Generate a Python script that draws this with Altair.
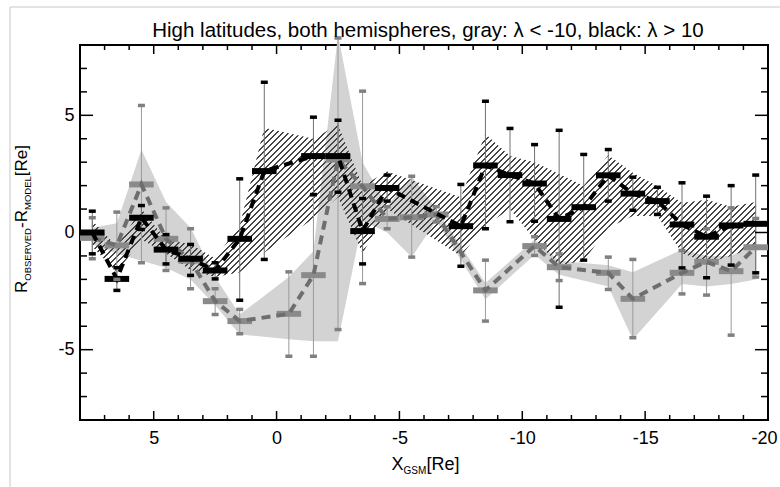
import altair as alt
import pandas as pd

TITLE = "High latitudes, both hemispheres, gray: \u03bb < -10, black: \u03bb > 10"

# ---- black series (lambda > 10) ----
BLACK_X = [7.5, 6.5, 5.5, 4.5, 3.5, 2.5, 1.5, 0.5, -1.5, -2.5, -3.5, -4.5, -7.5,
           -8.5, -9.5, -10.5, -11.5, -12.5, -13.5, -14.5, -15.5, -16.5, -17.5, -18.5, -19.5]
BLACK_Y = [0.0, -1.98, 0.63, -0.73, -1.12, -1.62, -0.27, 2.62, 3.26, 3.26, 0.06, 1.9, 0.27,
           2.86, 2.45, 2.09, 0.58, 1.08, 2.44, 1.66, 1.34, 0.34, -0.18, 0.30, 0.37]
BLACK_LO = [-0.91, -2.47, 0.13, -1.34, -1.83, -1.98, -2.89, -1.15, 1.62, 1.72, -1.34, 1.34, -1.44,
            0.16, 0.46, 0.48, -3.19, -1.18, 1.34, 0.95, 0.77, -1.51, -1.93, -1.39, -1.72]
BLACK_HI = [0.91, -1.5, 1.15, -0.09, -0.51, -1.29, 2.29, 6.41, 4.92, 4.79, 1.45, 2.45, 2.05,
            5.6, 4.44, 3.75, 4.36, 3.33, 3.54, 2.36, 1.93, 2.12, 1.55, 2.0, 2.45]
BLACK_BAND_LO = [-0.6, -1.7, -0.3, -0.9, -1.6, -1.9, -1.7, -0.85, 0.6, 1.5, -0.9, 1.0, -1.0,
                 0.3, 1.0, -0.3, -1.4, -1.2, 0.2, 0.7, 0.7, -0.87, -1.3, -1.0, -0.6]
BLACK_BAND_HI = [0.5, -0.6, 1.0, -0.3, -0.5, -1.1, 0.3, 4.47, 4.0, 4.6, 2.0, 2.6, 1.5,
                 4.2, 3.26, 3.0, 2.5, 2.0, 3.3, 2.55, 1.97, 1.27, 1.4, 1.1, 1.3]

# ---- gray series (lambda < -10) ----
GRAY_X = [7.5, 6.5, 5.5, 4.5, 3.5, 2.5, 1.5, -0.5, -1.5, -2.5, -3.5, -4.5, -5.5, -6.5,
          -8.5, -10.5, -11.5, -13.5, -14.5, -16.5, -17.5, -18.5, -19.5]
GRAY_Y = [-0.23, -0.55, 2.05, -0.27, -1.2, -2.93, -3.78, -3.47, -1.82, 3.11, 1.97, 0.58, 0.65, 0.77,
          -2.47, -0.58, -1.48, -1.72, -2.83, -1.72, -1.25, -1.65, -0.63]
GRAY_LO = [-1.12, -2.0, -1.29, -1.62, -2.4, -3.5, -4.32, -5.28, -5.28, -4.14, -2.18, 0.16, -1.05, 0.45,
           -3.78, -0.98, -2.05, -2.43, -4.49, -2.62, -2.67, -4.38, -1.9]
GRAY_HI = [0.63, 0.87, 5.42, 1.05, 0.16, -2.4, -3.28, -1.68, 1.6, 8.3, 6.03, 1.1, 2.4, 1.1,
           -1.18, -0.18, -0.91, -1.05, -1.15, -0.77, 0.16, 1.05, 0.6]
GRAY_BAND_LO = [-0.5, -0.9, -1.2, -1.5, -2.0, -3.1, -4.35, -4.55, -4.64, -4.64, 0.5, 0.0, -1.05, 0.5,
                -2.85, -0.95, -1.8, -2.3, -4.56, -2.2, -2.3, -2.2, -2.0]
GRAY_BAND_HI = [0.2, 0.4, 3.54, 1.3, 0.2, -1.9, -3.5, -1.9, -0.8, 8.45, 3.0, 1.12, 2.4, 1.0,
                -2.15, -0.3, -1.2, -1.4, -1.7, -0.73, -1.0, -1.0, -0.45]

# ---- axes ----
X_DOMAIN = [8, -20]
Y_DOMAIN = [-8, 8]
X_LABELS = [5, 0, -5, -10, -15, -20]
Y_LABELS = [-5, 0, 5]
X_MAJOR = [5, 0, -5, -10, -15]
X_MINOR = [7, 6, 4, 3, 2, 1, -1, -2, -3, -4, -6, -7, -8, -9, -11, -12, -13, -14, -16, -17, -18, -19]
Y_MAJOR = [-5, 0, 5]
Y_MINOR = [-7, -6, -4, -3, -2, -1, 1, 2, 3, 4, 6, 7]

W, H = 688, 375
HALF = 0.5
FONT = "Liberation Sans"

black = pd.DataFrame({"x": BLACK_X, "y": BLACK_Y, "lo": BLACK_LO, "hi": BLACK_HI,
                      "blo": BLACK_BAND_LO, "bhi": BLACK_BAND_HI})
black["x0"] = black["x"] + HALF
black["x1"] = black["x"] - HALF
gray = pd.DataFrame({"x": GRAY_X, "y": GRAY_Y, "lo": GRAY_LO, "hi": GRAY_HI,
                     "blo": GRAY_BAND_LO, "bhi": GRAY_BAND_HI})
gray["x0"] = gray["x"] + HALF
gray["x1"] = gray["x"] - HALF
caps_black = pd.DataFrame({"x": BLACK_X + BLACK_X, "y": BLACK_LO + BLACK_HI})
caps_gray = pd.DataFrame({"x": GRAY_X + GRAY_X, "y": GRAY_LO + GRAY_HI})

xs = alt.Scale(domain=X_DOMAIN, nice=False, zero=False)
ys = alt.Scale(domain=Y_DOMAIN, nice=False, zero=False)
XAXIS = alt.Axis(values=X_LABELS, ticks=False, domain=False, grid=False, labelFont=FONT,
                 labelFontSize=18, labelColor="black", labelPadding=9, labelFlush=True,
                 labelFlushOffset=9, labelExpr="'' + datum.value", title=None)
YAXIS = alt.Axis(values=Y_LABELS, ticks=False, domain=False, grid=False, labelFont=FONT,
                 labelFontSize=18, labelColor="black", labelPadding=6,
                 labelExpr="'' + datum.value", title=None)


def X(f):
    return alt.X(f, type="quantitative", scale=xs, axis=XAXIS, title=None)


def Y(f):
    return alt.Y(f, type="quantitative", scale=ys, axis=YAXIS, title=None)


# hatch pattern for the black band (diagonal stripes via a hard-stop gradient)
px_x = W / (X_DOMAIN[0] - X_DOMAIN[1])
px_y = H / (Y_DOMAIN[1] - Y_DOMAIN[0])
bw = (max(BLACK_X) - min(BLACK_X)) * px_x
bh = (max(BLACK_BAND_HI) - min(BLACK_BAND_LO)) * px_y
gx = (bw + bh) * bw / (bw ** 2 + bh ** 2)
gy = gx * bh / bw
tot = bw + bh
period, lw = 6.0, 1.4
stops = []
i = 0
while i * period < tot:
    a = min(i * period / tot, 1.0)
    b = min((i * period + lw) / tot, 1.0)
    c = min((i + 1) * period / tot, 1.0)
    stops += [alt.GradientStop(color="#454545", offset=a), alt.GradientStop(color="#454545", offset=b),
              alt.GradientStop(color="rgba(255,255,255,0)", offset=b),
              alt.GradientStop(color="rgba(255,255,255,0)", offset=c)]
    i += 1
hatch = alt.Gradient(gradient="linear", stops=stops, x1=0, y1=0, x2=gx, y2=gy)

gray_band = alt.Chart(gray).mark_area(color="#d3d3d3", opacity=1).encode(x=X("x"), y=Y("blo"), y2="bhi:Q")
black_band = alt.Chart(black).mark_area(fill=hatch, opacity=1).encode(x=X("x"), y=Y("blo"), y2="bhi:Q")

gray_err = alt.Chart(gray).mark_rule(color="#9a9a9a", strokeWidth=1).encode(x=X("x"), y=Y("lo"), y2="hi:Q")
black_err = alt.Chart(black).mark_rule(color="#707070", strokeWidth=1).encode(x=X("x"), y=Y("lo"), y2="hi:Q")

gray_bars = alt.Chart(gray).mark_rule(color="#8a8a8a", strokeWidth=6, strokeCap="butt").encode(
    x=X("x0"), x2="x1:Q", y=Y("y"))
black_bars = alt.Chart(black).mark_rule(color="black", strokeWidth=6, strokeCap="butt").encode(
    x=X("x0"), x2="x1:Q", y=Y("y"))

gray_line = alt.Chart(gray).mark_line(color="#6e6e6e", strokeWidth=4, strokeDash=[9, 6]).encode(
    x=X("x"), y=Y("y"))
black_line = alt.Chart(black).mark_line(color="black", strokeWidth=4, strokeDash=[9, 6]).encode(
    x=X("x"), y=Y("y"))

CAP = "M-1,-0.5L1,-0.5L1,0.5L-1,0.5Z"
gray_caps = alt.Chart(caps_gray).mark_point(shape=CAP, filled=True, size=49, color="#808080", opacity=1).encode(
    x=X("x"), y=Y("y"))
black_caps = alt.Chart(caps_black).mark_point(shape=CAP, filled=True, size=49, color="black", opacity=1).encode(
    x=X("x"), y=Y("y"))


def tick_layers():
    out = []
    for vals, L in ((X_MAJOR, 9), (X_MINOR, 5)):
        d = pd.DataFrame({"v": vals})
        out.append(alt.Chart(d).mark_rule(color="black", strokeWidth=1.5).encode(
            x=X("v"), y=alt.value(H), y2=alt.value(H - L)))
        out.append(alt.Chart(d).mark_rule(color="black", strokeWidth=1.5).encode(
            x=X("v"), y=alt.value(0), y2=alt.value(L)))
    for vals, L in ((Y_MAJOR, 13), (Y_MINOR, 7)):
        d = pd.DataFrame({"v": vals})
        out.append(alt.Chart(d).mark_rule(color="black", strokeWidth=1.5).encode(
            y=Y("v"), x=alt.value(0), x2=alt.value(L)))
        out.append(alt.Chart(d).mark_rule(color="black", strokeWidth=1.5).encode(
            y=Y("v"), x=alt.value(W), x2=alt.value(W - L)))
    return out


def text(t, x, y, size, angle=0, align="left"):
    return alt.Chart(pd.DataFrame({"t": [t]})).mark_text(
        font=FONT, fontSize=size, angle=angle, align=align, baseline="alphabetic", color="black"
    ).encode(text="t:N", x=alt.value(x), y=alt.value(y))


texts = [
    text(TITLE, W / 2 + 4, -8, 20.5, align="center"),
    # x axis title: X_GSM [Re]
    text("X", 311.5, 425, 18),
    text("GSM", 323.5, 429, 10),
    text(" [Re]", 346.5, 425, 18),
    # y axis title: R_OBSERVED - R_MODEL [Re]
    text("R", -53, 248, 17, angle=270),
    text("OBSERVED", -49.5, 235.7, 9.5, angle=270),
    text("-R", -53, 182.9, 17, angle=270),
    text("MODEL", -49.5, 165.0, 9.5, angle=270),
    text(" [Re]", -53, 131.2, 17, angle=270),
]

border = [
    alt.Chart(pd.DataFrame({"a": [0]})).mark_rule(color="#c8c8c8", strokeWidth=1).encode(
        x=alt.value(-70), x2=alt.value(W + 12), y=alt.value(-38)),
    alt.Chart(pd.DataFrame({"a": [0]})).mark_rule(color="#c8c8c8", strokeWidth=1).encode(
        x=alt.value(-70), y=alt.value(-38), y2=alt.value(H + 67)),
]

layers = [gray_band, black_band, gray_err, black_err, gray_bars, gray_line, black_bars, black_line,
          gray_caps, black_caps] + tick_layers() + texts + border

chart = alt.layer(*layers).properties(
    width=W, height=H, autosize="none",
    padding={"left": 80, "top": 45, "right": 12, "bottom": 67},
    background="white",
).configure_view(stroke="black", strokeWidth=2)

chart.save("out.html", embed_options={"renderer": "svg", "actions": False})
